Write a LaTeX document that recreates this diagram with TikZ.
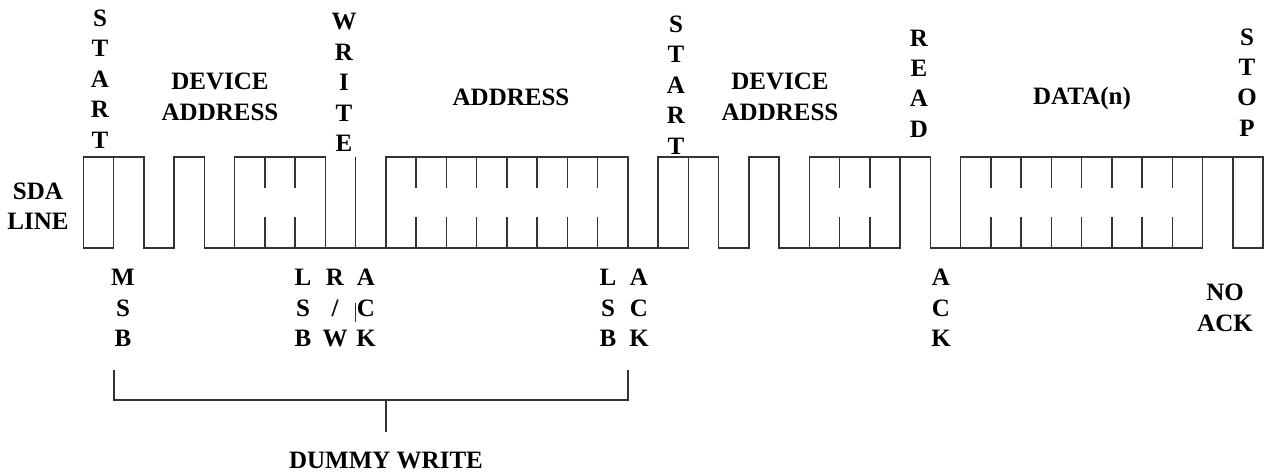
\documentclass[tikz,border=0pt]{standalone}
\usepackage{fontspec}
\setmainfont{Liberation Serif}
\tikzset{sig/.style = {line width = 0.7pt, color = black!80}}
\tikzset{lbl/.style = {font = \fontsize{12.5}{15.2}\selectfont\bfseries, align = center, inner sep = 0pt}}

\begin{document}
\begin{tikzpicture}[x = 0.5pt, y = -0.5pt]
\useasboundingbox (0,0) rectangle (1268,472);
\begin{scope}[shift = {(83.3,0)}, x = 15.125pt]
\draw [sig] (0,248) rectangle (1,157);
\draw [sig] (1,157) -- (2,157) -- (2,248) -- (3,248) -- (3,157) -- (4,157) -- (4,248) -- (5,248);
\draw [sig] (5,248) rectangle (8,157);
\draw [sig] (8,248) -- (10,248);
\draw [sig] (9,248) -- (9,157);
\draw [sig] (10,248) rectangle (18,157);
\draw [sig] (18,248) -- (19,248);
\draw [sig] (19,248) rectangle (20,157);
\draw [sig] (20,157) -- (21,157) -- (21,248) -- (22,248) -- (22,157) -- (23,157) -- (23,248) -- (24,248);
\draw [sig] (24,248) rectangle (27,157);
\draw [sig] (27,157) -- (28,157) -- (28,248) -- (29,248);
\draw [sig] (29,248) rectangle (37,157);
\draw [sig] (37,157) -- (38,157);
\draw [sig] (38,248) rectangle (39,157);
\foreach \k in {6,7,11,12,13,14,15,16,17,25,26,30,31,32,33,34,35,36}
{
\draw [sig] (\k,157) -- (\k,188);
\draw [sig] (\k,217) -- (\k,248);
}
\end{scope}
\node [lbl] (sda) at (38,206) {SDA\\LINE};
\node [lbl] (start1) at (100,79) {S\\T\\A\\R\\T};
\node [lbl] (devaddr1) at (220,97) {DEVICE\\ADDRESS};
\node [lbl] (write) at (344,82.5) {W\\R\\I\\T\\E};
\node [lbl] (addr) at (511,97) {ADDRESS};
\node [lbl] (start2) at (676,85) {S\\T\\A\\R\\T};
\node [lbl] (devaddr2) at (780,97) {DEVICE\\ADDRESS};
\node [lbl] (read) at (919,83.5) {R\\E\\A\\D};
\node [lbl] (data) at (1082,98) {DATA(n)};
\node [lbl] (stop) at (1247,82.5) {S\\T\\O\\P};
\node [lbl] (msb) at (123,308) {M\\S\\B};
\node [lbl] (lsb1) at (303,308) {L\\S\\B};
\node [lbl] (rw) at (335,308) {R\\/\\W};
\node [lbl] (ack1) at (366,308) {A\\C\\K};
\coordinate (bar) at (355.5,303);
\draw [sig] (bar) -- ++(0,19);
\node [lbl] (lsb2) at (608,308) {L\\S\\B};
\node [lbl] (ack2) at (639,308) {A\\C\\K};
\node [lbl] (ack3) at (941,308) {A\\C\\K};
\node [lbl] (noack) at (1225,308) {NO\\ACK};
\coordinate (bl) at (114,370);
\coordinate (br) at (628,370);
\coordinate (bm) at (386,400);
\draw [sig] (bl) -- ++(0,30) -| (br);
\draw [sig] (bm) -- ++(0,32);
\node [lbl] (dummy) at (386,460) {DUMMY WRITE};
\end{tikzpicture}
\end{document}
